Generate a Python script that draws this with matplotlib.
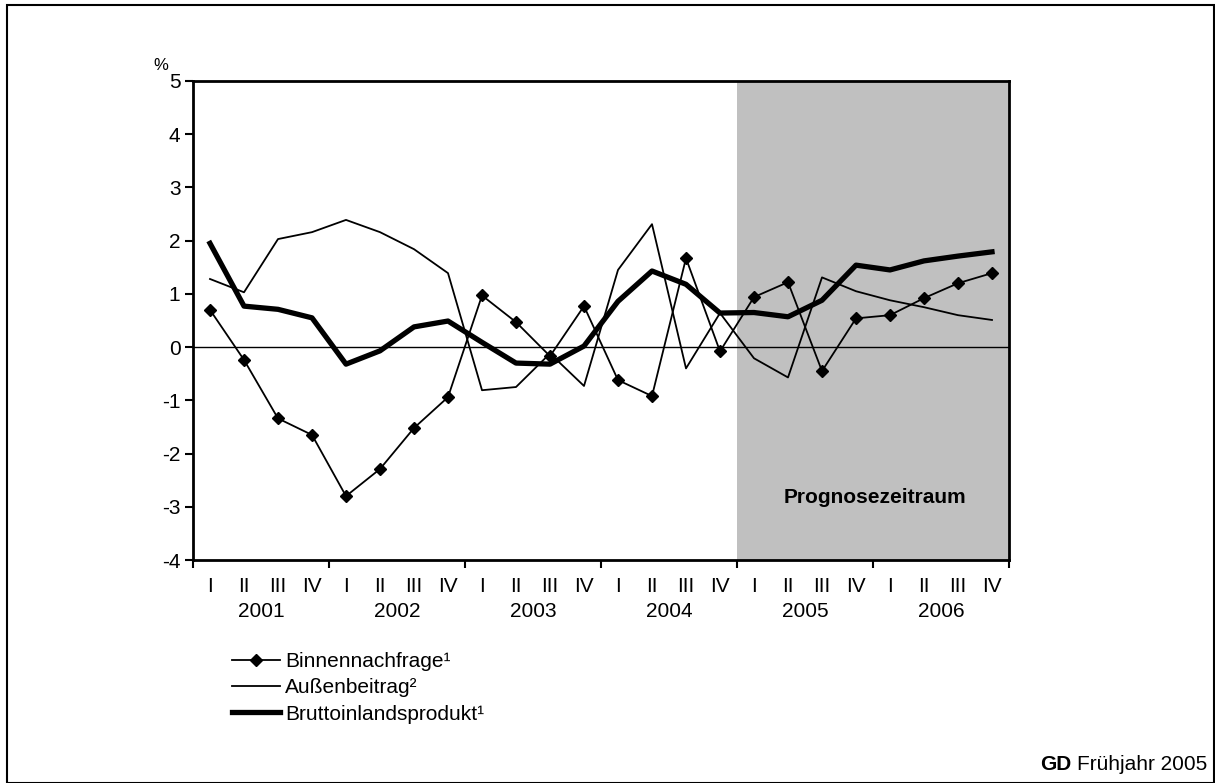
import numpy as np
import matplotlib.pyplot as plt
from matplotlib.patches import Rectangle

plt.rcParams['font.family'] = ['Liberation Sans', 'DejaVu Sans']
plt.rcParams['axes.unicode_minus'] = False

years = ["2001", "2002", "2003", "2004", "2005", "2006"]
quarters = ["I", "II", "III", "IV"]

binnennachfrage = [0.70, -0.24, -1.34, -1.65, -2.80, -2.29, -1.52, -0.94,
                   0.97, 0.47, -0.17, 0.77, -0.62, -0.92, 1.67, -0.08,
                   0.94, 1.22, -0.45, 0.54, 0.60, 0.92, 1.20, 1.39]
aussenbeitrag = [1.28, 1.03, 2.03, 2.16, 2.39, 2.16, 1.84, 1.39,
                 -0.81, -0.75, -0.12, -0.73, 1.45, 2.31, -0.40, 0.64,
                 -0.21, -0.57, 1.31, 1.05, 0.88, 0.75, 0.60, 0.51]
bip = [1.95, 0.77, 0.71, 0.55, -0.32, -0.07, 0.38, 0.49,
       0.09, -0.30, -0.32, 0.02, 0.86, 1.43, 1.18, 0.64,
       0.65, 0.57, 0.88, 1.54, 1.45, 1.62, 1.71, 1.79]

forecast_start = 16  # first forecast quarter (2005 I)
FS = 15

x = np.arange(len(bip))

fig = plt.figure(figsize=(12.15, 7.83), dpi=100)
ax = fig.add_axes([193 / 1215, 1 - 560 / 783, 816 / 1215, 479 / 783])

ax.axvspan(forecast_start - 0.5, len(x) - 0.5, color="#c0c0c0", lw=0, zorder=0)
ax.axhline(0, color="black", lw=1.0, zorder=1)

l1, = ax.plot(x, binnennachfrage, color="black", lw=1.3, marker="D", ms=6.5,
              label="Binnennachfrage¹", zorder=3)
l2, = ax.plot(x, aussenbeitrag, color="black", lw=1.3, label="Außenbeitrag²", zorder=3)
l3, = ax.plot(x, bip, color="black", lw=3.8, label="Bruttoinlandsprodukt¹", zorder=4)

ax.set_xlim(-0.5, len(x) - 0.5)
ax.set_ylim(-4, 5)
ax.set_yticks(range(-4, 6))
ax.tick_params(axis="y", direction="out", length=6, width=1.5, labelsize=FS, pad=3)

# year boundaries as major ticks, quarter labels as minor ticks
ax.set_xticks(np.arange(-0.5, len(x), 4))
ax.set_xticklabels([])
ax.tick_params(axis="x", which="major", direction="out", length=6, width=1.5)
ax.set_xticks(x, minor=True)
ax.set_xticklabels(quarters * len(years), minor=True)
ax.tick_params(axis="x", which="minor", length=0, labelsize=FS, pad=12)

for i, yr in enumerate(years):
    ax.text(1.5 + 4 * i, -0.107, yr, transform=ax.get_xaxis_transform(),
            ha="center", va="center", fontsize=FS)

for s in ax.spines.values():
    s.set_linewidth(2)

fig.text(161 / 1215, 1 - 65 / 783, "%", fontsize=12, ha="center", va="center")

ax.text(0.836, 0.13, "Prognosezeitraum", transform=ax.transAxes,
        ha="center", va="center", fontsize=FS, fontweight="bold")

ax.legend(handles=[l1, l2, l3], loc="upper left", frameon=False,
          bbox_to_anchor=(232 / 1215, 1 - 652 / 783), bbox_transform=fig.transFigure,
          fontsize=FS, handlelength=2.3, handletextpad=0.25, labelspacing=0.35,
          borderaxespad=0, borderpad=0)

# footer: bold "GD" followed by regular text, right aligned
foot = fig.text(1207 / 1215, 1 - 765 / 783, "Frühjahr 2005", ha="right", va="center",
                fontsize=FS)
renderer = fig.canvas.get_renderer()
bb = foot.get_window_extent(renderer)
fig.text((bb.x0 - 5) / 1215, 1 - 765 / 783, "GD", ha="right", va="center",
         fontsize=FS, fontweight="bold")

fig.patches.append(Rectangle((7 / 1215, 0), 1207 / 1215, 778 / 783,
                             transform=fig.transFigure, fill=False, lw=1.5,
                             edgecolor="black"))

fig.savefig("out.png", dpi=100)
